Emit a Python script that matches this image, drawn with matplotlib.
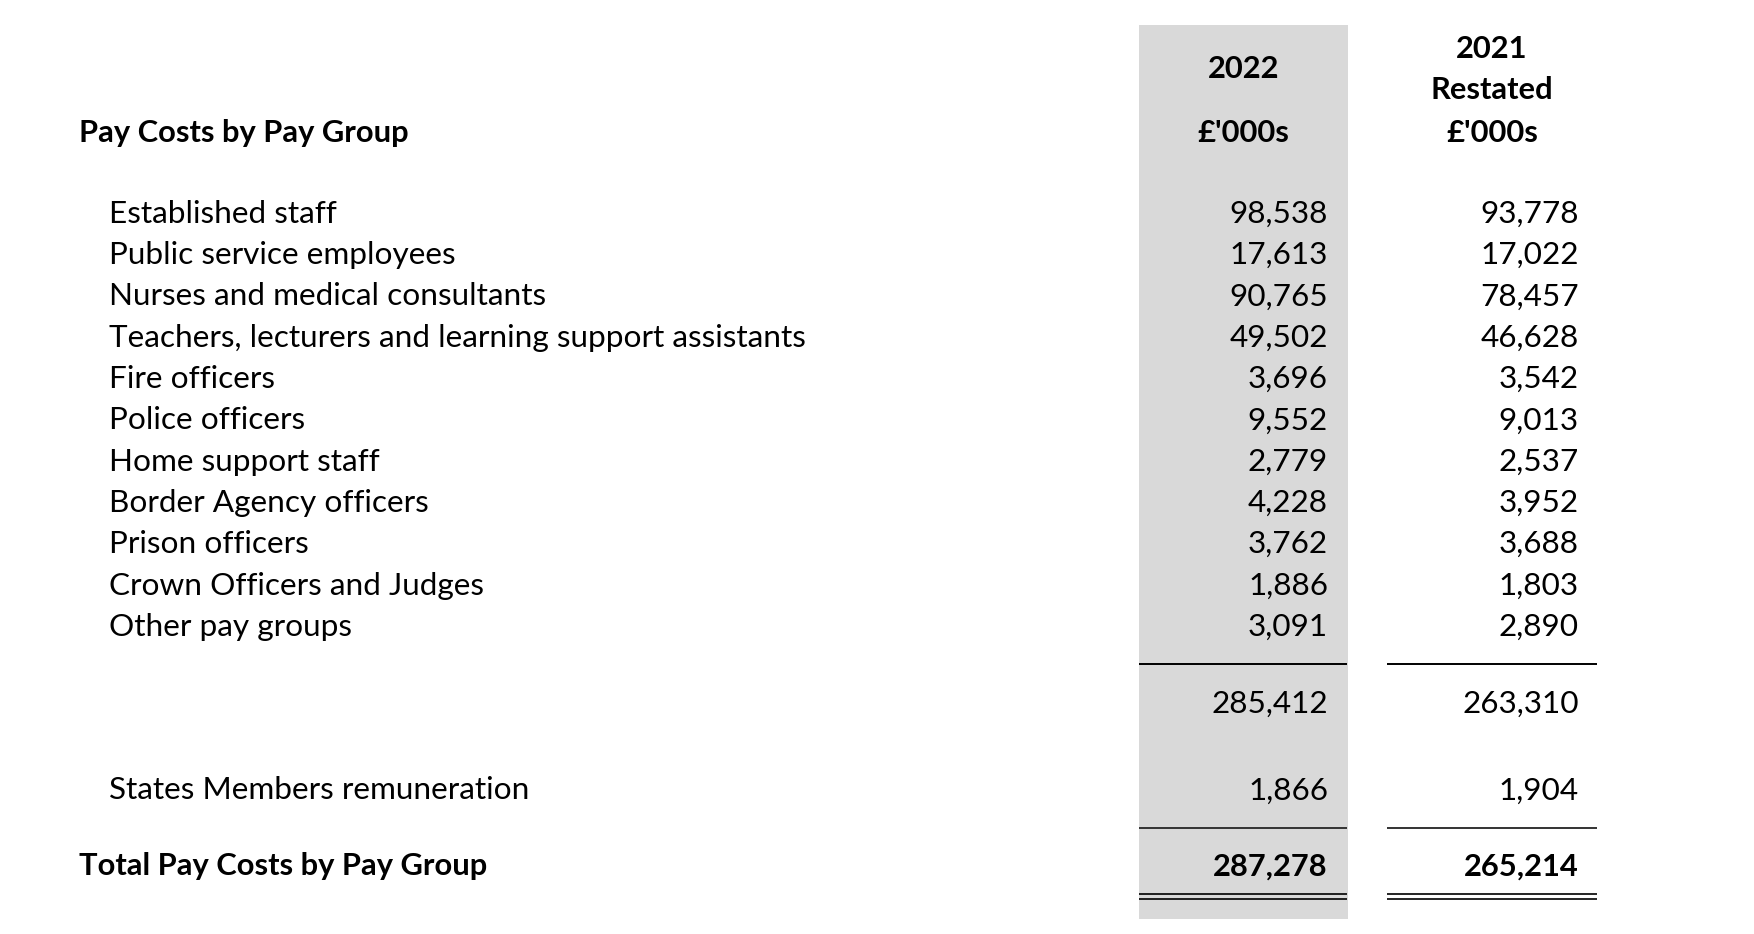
import matplotlib
matplotlib.use("Agg")
import matplotlib.pyplot as plt
from matplotlib.patches import Rectangle

# ---------------- data ----------------
title = "Pay Costs by Pay Group"
col_2022_header = ["2022", "£'000s"]
col_2021_header = ["2021", "Restated", "£'000s"]
categories = [
    "Established staff",
    "Public service employees",
    "Nurses and medical consultants",
    "Teachers, lecturers and learning support assistants",
    "Fire officers",
    "Police officers",
    "Home support staff",
    "Border Agency officers",
    "Prison officers",
    "Crown Officers and Judges",
    "Other pay groups",
]
values_2022 = [98538, 17613, 90765, 49502, 3696, 9552, 2779, 4228, 3762, 1886, 3091]
values_2021 = [93778, 17022, 78457, 46628, 3542, 9013, 2537, 3952, 3688, 1803, 2890]
subtotal_2022 = 285412
subtotal_2021 = 263310
states_label = "States Members remuneration"
states_2022 = 1866
states_2021 = 1904
total_label = "Total Pay Costs by Pay Group"
total_2022 = 287278
total_2021 = 265214

# ---------------- layout (pixel coordinates) ----------------
W, H = 1754, 934
FONT = "Lato"
fig = plt.figure(figsize=(W / 100, H / 100), dpi=100)
ax = fig.add_axes([0, 0, 1, 1])
ax.set_xlim(0, W)
ax.set_ylim(H, 0)
ax.axis("off")

# fit font size so that the longest label spans the reference width
probe = ax.text(0, 0, categories[3], fontsize=20, family=FONT)
fig.canvas.draw()
w = probe.get_window_extent(fig.canvas.get_renderer()).width
fs = 20 * 697 / w
probe.remove()
em_px = fs * 100 / 72
cap_off = 0.36 * em_px


def put(x, yc, s, ha="left", bold=False):
    ax.text(x, yc + cap_off, s, fontsize=fs * (0.98 if bold else 1.0), family=FONT,
            ha=ha, va="baseline", fontweight="bold" if bold else "normal",
            color="black")


fmt = lambda v: f"{v:,}"

# grey column for 2022
g_left, g_right = 1139, 1348
ax.add_patch(Rectangle((g_left, 25), g_right - g_left, 919 - 25, facecolor="#D9D9D9",
                       edgecolor="none", zorder=0))
c1_x = (g_left + g_right) / 2
w_left, w_right = 1387, 1597
c2_x = (w_left + w_right) / 2
r1, r2 = 1328, 1579
lab_x, ind_x = 79, 109

# headers
put(c1_x, 67, col_2022_header[0], ha="center", bold=True)
put(c1_x, 131, col_2022_header[1], ha="center", bold=True)
put(c2_x, 47, col_2021_header[0], ha="center", bold=True)
put(c2_x, 88, col_2021_header[1], ha="center", bold=True)
put(c2_x, 131, col_2021_header[2], ha="center", bold=True)
put(lab_x, 131, title, bold=True)

# rows
y0, step = 211.5, 41.3
for i, (c, a, b) in enumerate(zip(categories, values_2022, values_2021)):
    y = y0 + i * step
    put(ind_x, y, c)
    put(r1, y, fmt(a), ha="right")
    put(r2, y, fmt(b), ha="right")

# rules
lw = 1.4
for (xa, xb) in [(g_left, g_right - 1), (w_left, w_right)]:
    ax.plot([xa, xb], [664, 664], color="black", lw=lw, solid_capstyle="butt")
    ax.plot([xa, xb], [828, 828], color="#333333", lw=lw, solid_capstyle="butt")
    ax.plot([xa, xb], [894, 894], color="black", lw=1.2, solid_capstyle="butt")
    ax.plot([xa, xb], [898.5, 898.5], color="black", lw=1.2, solid_capstyle="butt")

put(r1, 701, fmt(subtotal_2022), ha="right")
put(r2, 701, fmt(subtotal_2021), ha="right")

put(ind_x, 788, states_label)
put(r1, 788, fmt(states_2022), ha="right")
put(r2, 788, fmt(states_2021), ha="right")

put(lab_x, 864, total_label, bold=True)
put(r1, 864, fmt(total_2022), ha="right", bold=True)
put(r2, 864, fmt(total_2021), ha="right", bold=True)

fig.savefig("out.png", dpi=100, facecolor="white")
